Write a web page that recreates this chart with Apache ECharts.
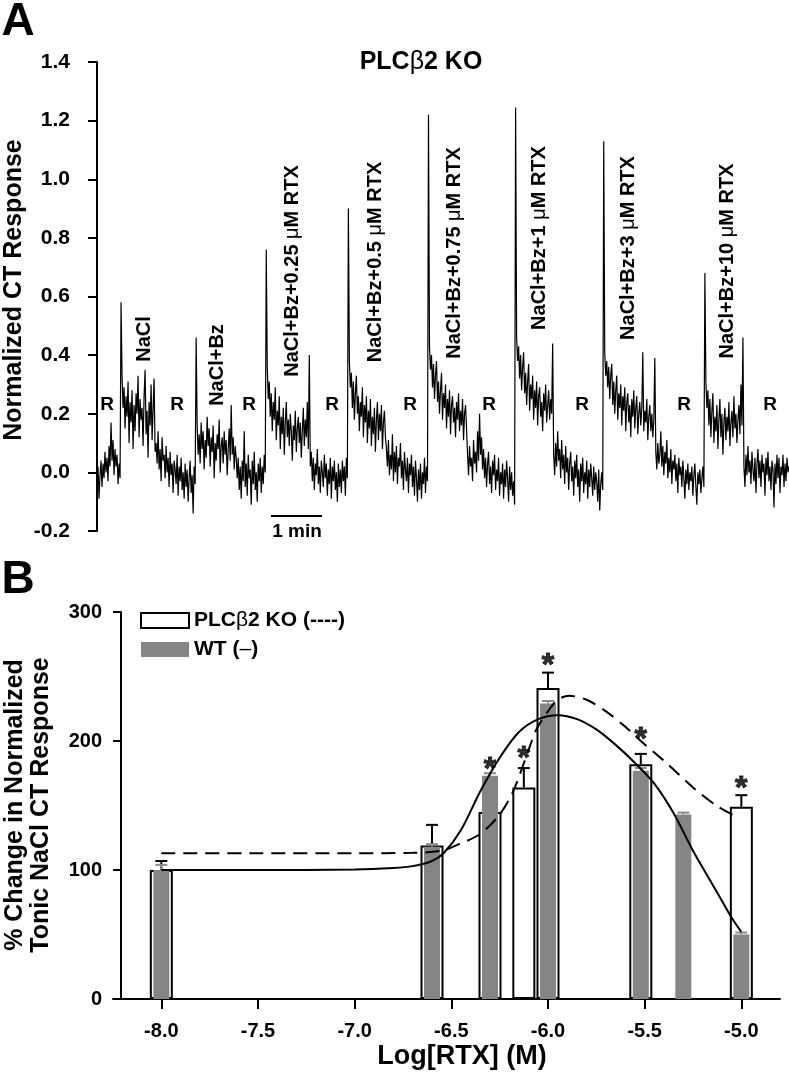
<!DOCTYPE html>
<html><head><meta charset="utf-8">
<script src="https://cdn.jsdelivr.net/npm/echarts@6/dist/echarts.min.js"></script>
<style>html,body{margin:0;padding:0;background:#fff}#c{width:789px;height:1084px}</style>
</head><body><div id="c"></div>
<script>
const FONT = "'Liberation Sans', Arial, Helvetica, sans-serif";

// ---------- Panel A: chorda tympani trace (normalized), one value per ~1 px ----------
const segR1 = [-0.07, 0.02, -0.09, -0.01, 0.04, -0.05, 0.03, -0.02, 0.07, 0.00,
  0.05, -0.03, 0.09, 0.02, 0.17, 0.04, 0.11, -0.01, 0.08, 0.02,
  0.06, -0.04, 0.03, -0.02];
const segNaCl = [0.58, 0.33, 0.22, 0.29, 0.15, 0.26, 0.19, 0.31, 0.10, 0.24,
  0.17, 0.28, 0.08, 0.23, 0.14, 0.27, 0.20, 0.33, 0.12, 0.25,
  0.18, 0.22, 0.09, 0.26, 0.35, 0.13, 0.21, 0.05, 0.24, 0.16,
  0.30, 0.11, 0.22, 0.32, 0.07];
const segR2 = [0.10, 0.03, 0.14, 0.01, 0.08, -0.03, 0.12, 0.04, 0.06, -0.02,
  0.09, 0.00, 0.05, -0.05, 0.07, -0.01, 0.03, -0.07, 0.04, 0.01,
  -0.04, 0.06, -0.08, 0.02, -0.03, 0.05, -0.06, 0.00, -0.09, 0.03,
  -0.05, 0.01, -0.10, -0.02, 0.04, -0.07, -0.01, -0.14, 0.02, -0.04];
const segBz = [0.46, 0.16, 0.06, 0.13, 0.03, 0.17, 0.08, 0.14, 0.01, 0.11,
  0.05, 0.19, 0.09, 0.15, 0.02, 0.12, 0.07, 0.16, -0.02, 0.10,
  0.04, 0.13, 0.08, 0.18, 0.00, 0.09, 0.12, 0.03, 0.14, 0.06,
  0.11, -0.01, 0.08, 0.15, 0.04, 0.23, 0.06, 0.12, 0.01, 0.09,
  0.05];
const segR3 = [-0.02, 0.05, -0.06, 0.02, -0.09, 0.04, -0.03, 0.14, -0.05, 0.03,
  -0.08, 0.06, -0.02, 0.01, -0.11, 0.04, -0.04, 0.07, -0.06, 0.00,
  -0.10, 0.03, -0.03, 0.05, -0.07, 0.02, -0.04, 0.06, 0.00];
const seg025 = [0.76, 0.36, 0.25, 0.31, 0.19, 0.27, 0.14, 0.24, 0.18, 0.29,
  0.11, 0.21, 0.16, 0.26, 0.08, 0.19, 0.13, 0.22, 0.06, 0.17,
  0.24, 0.12, 0.18, 0.09, 0.20, 0.14, 0.04, 0.16, 0.11, 0.21,
  0.07, 0.15, 0.19, 0.10, 0.17, 0.05, 0.14, 0.22, 0.09, 0.18,
  0.12, 0.24, 0.08, 0.40];
const segR4 = [0.02, 0.07, -0.03, 0.05, -0.06, 0.03, -0.01, 0.08, -0.04, 0.02,
  -0.07, 0.04, 0.00, -0.05, 0.06, -0.02, 0.03, -0.08, 0.01, -0.04,
  0.05, -0.09, 0.02, -0.03, 0.04, -0.06, 0.00, -0.10, 0.03, -0.05,
  0.01, -0.07, 0.04, -0.03, 0.02, -0.08, 0.05, -0.02];
const seg05 = [0.90, 0.38, 0.29, 0.34, 0.22, 0.31, 0.18, 0.27, 0.33, 0.20,
  0.26, 0.14, 0.24, 0.19, 0.29, 0.12, 0.23, 0.17, 0.26, 0.10,
  0.21, 0.15, 0.25, 0.09, 0.19, 0.13, 0.22, 0.07, 0.18, 0.24,
  0.11, 0.20, 0.14, 0.23, 0.08, 0.17, 0.21, 0.12];
const segR5 = [0.08, 0.02, 0.11, -0.01, 0.06, 0.01, 0.13, -0.03, 0.07, 0.00,
  0.09, -0.04, 0.05, 0.02, 0.10, -0.02, 0.04, -0.06, 0.07, 0.01,
  -0.03, 0.05, -0.07, 0.03, -0.01, 0.06, -0.05, 0.02, -0.08, 0.04,
  -0.02, -0.10, 0.01, -0.06, 0.03, -0.09, 0.00, -0.04, 0.05, -0.07,
  0.02, -0.03];
const seg075 = [1.22, 0.43, 0.35, 0.40, 0.29, 0.37, 0.25, 0.33, 0.38, 0.24,
  0.31, 0.20, 0.28, 0.34, 0.18, 0.27, 0.22, 0.30, 0.15, 0.25,
  0.19, 0.28, 0.13, 0.23, 0.26, 0.17, 0.22, 0.12, 0.24, 0.18,
  0.27, 0.14, 0.21, 0.16, 0.25, 0.11, 0.20, 0.23, 0.15];
const segR6 = [0.06, -0.01, 0.09, 0.02, 0.05, -0.03, 0.11, 0.03, 0.07, 0.00,
  0.14, 0.04, 0.20, 0.06, 0.12, 0.01, 0.08, -0.02, 0.05, -0.05,
  0.03, 0.07, -0.04, 0.02, -0.07, 0.04, -0.01, 0.06, -0.06, 0.01,
  -0.03, 0.05, -0.08, 0.00, -0.04, 0.03, -0.09, 0.01, -0.05, 0.04,
  -0.02, -0.10, 0.02, -0.06, 0.00, -0.08, -0.03, -0.11];
const seg1 = [1.245, 0.46, 0.38, 0.43, 0.32, 0.40, 0.28, 0.36, 0.41, 0.27,
  0.34, 0.23, 0.31, 0.37, 0.21, 0.30, 0.25, 0.33, 0.18, 0.28,
  0.22, 0.31, 0.16, 0.26, 0.29, 0.19, 0.24, 0.14, 0.27, 0.21,
  0.30, 0.17, 0.23, 0.28, 0.18, 0.25, 0.20, 0.44];
const segR7 = [0.06, -0.01, 0.10, 0.02, 0.14, 0.04, 0.08, -0.02, 0.11, 0.01,
  0.06, -0.04, 0.09, 0.00, 0.05, -0.06, 0.03, 0.07, -0.03, 0.02,
  -0.08, 0.04, -0.02, 0.06, -0.05, 0.01, -0.10, 0.03, -0.03, 0.05,
  -0.07, 0.00, -0.04, 0.04, -0.09, 0.01, -0.05, 0.03, -0.02, -0.08,
  0.02, -0.06, 0.00, -0.03, -0.10, 0.01, -0.13, -0.04, 0.00, -0.06];
const seg3 = [1.13, 0.41, 0.33, 0.38, 0.29, 0.36, 0.25, 0.33, 0.37, 0.23,
  0.31, 0.20, 0.28, 0.33, 0.18, 0.27, 0.22, 0.30, 0.16, 0.26,
  0.21, 0.29, 0.14, 0.24, 0.27, 0.17, 0.23, 0.12, 0.25, 0.19,
  0.28, 0.15, 0.22, 0.26, 0.13, 0.20, 0.24, 0.16, 0.22, 0.41,
  0.14, 0.21, 0.17, 0.25, 0.11, 0.19, 0.23, 0.14, 0.20, 0.12,
  0.18, 0.39];
const segR8 = [0.07, 0.01, 0.10, 0.03, 0.06, 0.14, 0.02, 0.09, -0.01, 0.07,
  0.03, 0.11, -0.02, 0.05, 0.00, 0.08, -0.04, 0.04, 0.01, 0.06,
  -0.03, 0.03, -0.07, 0.05, -0.01, 0.02, -0.05, 0.04, -0.02, -0.09,
  0.01, -0.04, 0.03, -0.06, 0.00, -0.03, 0.02, -0.08, -0.01, 0.03,
  -0.05, -0.11, 0.00, -0.04, 0.01, -0.07, -0.02, 0.02, -0.05];
const seg10 = [0.68, 0.31, 0.22, 0.28, 0.16, 0.25, 0.12, 0.21, 0.27, 0.10,
  0.19, 0.14, 0.23, 0.08, 0.18, 0.25, 0.12, 0.20, 0.06, 0.17,
  0.22, 0.11, 0.19, 0.14, 0.24, 0.09, 0.17, 0.21, 0.12, 0.26,
  0.15, 0.20, 0.10, 0.18, 0.23, 0.13, 0.30, 0.16, 0.46];
const segR9 = [0.02, -0.05, 0.06, -0.01, 0.09, 0.00, 0.04, -0.04, 0.07, 0.01,
  -0.03, 0.05, -0.07, 0.03, 0.08, -0.02, 0.04, -0.05, 0.06, 0.00,
  0.03, -0.08, 0.05, -0.01, 0.07, -0.03, 0.02, -0.06, 0.04, 0.01,
  -0.12, 0.03, -0.04, 0.06, -0.02, 0.05, -0.07, 0.02, -0.01, 0.06,
  -0.05, 0.03, -0.03, 0.05, 0.00, 0.02];
const traceSegments = [segR1, segNaCl, segR2, segBz, segR3, seg025, segR4, seg05, segR5, seg075, segR6, seg1, segR7, seg3, segR8, seg10, segR9];
const trace = [].concat(...traceSegments);

const stimulusLabels = ['NaCl', 'NaCl+Bz', 'NaCl+Bz+0.25 μM RTX', 'NaCl+Bz+0.5 μM RTX', 'NaCl+Bz+0.75 μM RTX',
  'NaCl+Bz+1 μM RTX', 'NaCl+Bz+3 μM RTX', 'NaCl+Bz+10 μM RTX'];

// ---------- Panel B: dose-response ----------
const logKO = [-8.0, -6.6, -6.3, -6.125, -6.0, -5.52, -5.0];
const meanKO = [100, 119, 145, 164, 241, 182, 149];
const semKO = [7, 16, 10, 15, 12, 8, 9];
const logWT = [-8.0, -6.6, -6.3, -6.0, -5.52, -5.3, -5.0];
const meanWT = [100, 118, 173, 229, 177, 143, 50];
const semWT = [4, 2, 2, 2, 2, 1.5, 1.5];
const fitKOx = [-8.0, -7.5, -7.0, -6.7, -6.55, -6.46, -6.35, -6.25, -6.18, -6.11, -6.06, -6.0, -5.95, -5.89, -5.8, -5.7, -5.6, -5.52, -5.45, -5.38, -5.25, -5.13, -5.02];
const fitKOy = [113, 113, 113, 113.3, 115, 120, 128, 143, 161, 189, 209, 223, 232, 235, 232, 223, 211, 200, 191, 182, 164, 150, 141];
const fitWTx = [-8.0, -7.5, -7.0, -6.8, -6.7, -6.6, -6.54, -6.45, -6.35, -6.25, -6.15, -6.05, -5.95, -5.85, -5.75, -5.65, -5.55, -5.45, -5.35, -5.25, -5.15, -5.1, -5.05, -5.0];
const fitWTy = [100, 100, 100.3, 101.5, 103, 107, 113, 131, 161, 187, 207, 217, 220, 217, 209, 197, 183, 167, 144, 115, 89, 76, 63, 52];
const starX = [-6.3, -6.125, -6.0, -5.52, -5.0];
const starY = [184, 193, 265, 208, 170];
const xTicksB = [-8.0, -7.5, -7.0, -6.5, -6.0, -5.5, -5.0];
const nameKO = 'PLCβ2 KO (----)';
const nameWT = 'WT (–)';

const zip = (a, b) => a.map((v, i) => [v, b[i]]);

function errRender(color) {
  return function (params, api) {
    const x = api.value(0), top = api.value(1), e = api.value(2);
    const p0 = api.coord([x, top]);
    const p1 = api.coord([x, top + e]);
    return {
      type: 'group', children: [
        { type: 'line', shape: { x1: p0[0], y1: p0[1], x2: p1[0], y2: p1[1] }, style: { stroke: color, lineWidth: 2 } },
        { type: 'line', shape: { x1: p1[0] - 6, y1: p1[1], x2: p1[0] + 6, y2: p1[1] }, style: { stroke: color, lineWidth: 2 } }
      ]
    };
  };
}

function txt(text, x, y, size, opts) {
  opts = opts || {};
  return {
    type: 'text', x: x, y: y, rotation: opts.rot || 0, silent: true,
    style: {
      text: text, x: 0, y: 0, fill: '#000',
      fontSize: size, fontWeight: opts.weight || 'bold', fontFamily: FONT,
      align: 'center', verticalAlign: 'middle', textAlign: 'center', textVerticalAlign: 'middle',
      rich: opts.rich
    }
  };
}
function muText(s) {
  const parts = s.split('μ');
  if (parts.length === 1) return s;
  return parts[0] + '{m|μ}' + parts[1];
}
const richMu = { m: { fontSize: 20, fontWeight: 'normal', fontFamily: FONT, fill: '#000' } };

const graphics = [];
graphics.push(txt('A', 18, 22, 46));
graphics.push(txt('B', 18, 580, 46));
graphics.push(txt('PLC{g|β}2 KO', 421, 62, 25, { rich: { g: { fontSize: 25, fontWeight: 'normal', fontFamily: FONT, fill: '#000' } } }));
graphics.push(txt('Normalized CT Response', 14, 290, 25, { rot: Math.PI / 2 }));
graphics.push(txt('% Change in Normalized', 15, 805, 25, { rot: Math.PI / 2 }));
graphics.push(txt('Tonic NaCl CT Response', 41, 805, 25, { rot: Math.PI / 2 }));
graphics.push(txt('Log[RTX] (M)', 462, 1057, 27));
// R labels
const rX = [107, 177, 249, 332, 410, 489, 582, 684, 770];
rX.forEach(x => graphics.push(txt('R', x, 405, 19)));
// stimulus labels (rotated)
const stimPos = [[144, 339], [217, 365], [292, 271], [375, 262], [454, 253], [539, 238], [628, 248], [727, 261]];
stimulusLabels.forEach((s, i) => graphics.push(txt(muText(s), stimPos[i][0], stimPos[i][1], 20, { rot: Math.PI / 2, rich: richMu })));
// 1 min scale bar
graphics.push({ type: 'line', silent: true, shape: { x1: 271, y1: 516, x2: 322, y2: 516 }, style: { stroke: '#000', lineWidth: 2 } });
graphics.push(txt('1 min', 297, 532, 19));

const axisFont = { fontFamily: FONT, fontWeight: 'bold', color: '#000' };

const option = {
  animation: false,
  backgroundColor: '#fff',
  graphic: graphics,
  grid: [
    { left: 90, right: 0, top: 62, height: 469 },
    { left: 113, right: 9, top: 612, height: 387 }
  ],
  legend: {
    orient: 'vertical', left: 135, top: 605, itemGap: 8, itemWidth: 48, itemHeight: 15,
    textStyle: {
      fontFamily: FONT, fontWeight: 'bold', fontSize: 21, color: '#000',
      rich: { g: { fontFamily: FONT, fontWeight: 'normal', fontSize: 21, color: '#000' }, b: { fontFamily: FONT, fontWeight: 'bold', fontSize: 21, color: '#000' } }
    },
    formatter: n => n.indexOf('β') >= 0 ? '{b|PLC}{g|β}{b|2 KO (----)}' : '{b|WT (}{g|–}{b|)}',
    data: [
      { name: nameKO, icon: 'rect', itemStyle: { color: '#fff', borderColor: '#000', borderWidth: 2 } },
      { name: nameWT, icon: 'rect', itemStyle: { color: '#858585', borderWidth: 0 } }
    ]
  },
  xAxis: [
    { gridIndex: 0, type: 'value', min: -7, max: trace.length - 1, show: false },
    {
      gridIndex: 1, type: 'value', min: -8.25, max: -4.8,
      axisLine: { lineStyle: { color: '#000', width: 2 } },
      axisTick: { customValues: xTicksB, length: 10, lineStyle: { color: '#000', width: 2 } },
      axisLabel: { customValues: xTicksB, formatter: v => v.toFixed(1), fontSize: 20, margin: 22, ...axisFont },
      splitLine: { show: false }
    },
    { gridIndex: 1, type: 'value', min: -8.25, max: -4.8, show: false }
  ],
  yAxis: [
    {
      gridIndex: 0, type: 'value', min: -0.2, max: 1.4, interval: 0.2,
      axisLine: { show: true, lineStyle: { color: '#000', width: 2 } },
      axisTick: { show: true, length: 9, lineStyle: { color: '#000', width: 2 } },
      axisLabel: { formatter: v => v.toFixed(1), fontSize: 21, margin: 20, ...axisFont },
      splitLine: { show: false }
    },
    {
      gridIndex: 1, type: 'value', min: 0, max: 300, interval: 100, offset: -8,
      axisLine: { show: true, lineStyle: { color: '#000', width: 2 } },
      axisTick: { show: true, length: 8, lineStyle: { color: '#000', width: 2 } },
      axisLabel: { fontSize: 20, margin: 19, ...axisFont },
      splitLine: { show: false }
    }
  ],
  series: [
    {
      type: 'line', xAxisIndex: 0, yAxisIndex: 0, data: trace.map((v, i) => [i, v]),
      showSymbol: false, symbol: 'none', lineStyle: { color: '#000', width: 1.2 }, silent: true
    },
    {
      name: nameKO, type: 'bar', xAxisIndex: 1, yAxisIndex: 1, data: zip(logKO, meanKO),
      barWidth: 23, itemStyle: { color: '#fff', borderColor: '#000', borderWidth: 2 }, z: 2
    },
    {
      type: 'custom', xAxisIndex: 1, yAxisIndex: 1, renderItem: errRender('#000'),
      data: logKO.map((x, i) => [x, meanKO[i], semKO[i]]), z: 1
    },
    {
      name: nameWT, type: 'bar', xAxisIndex: 2, yAxisIndex: 1, data: zip(logWT, meanWT),
      barWidth: 16, itemStyle: { color: '#858585' }, z: 3
    },
    {
      type: 'custom', xAxisIndex: 1, yAxisIndex: 1, renderItem: errRender('#8a8a8a'),
      data: logWT.map((x, i) => [x, meanWT[i], semWT[i]]), z: 3
    },
    {
      type: 'line', xAxisIndex: 1, yAxisIndex: 1, data: zip(fitWTx, fitWTy), smooth: 0.3,
      showSymbol: false, symbol: 'none', lineStyle: { color: '#000', width: 2 }, z: 5
    },
    {
      type: 'line', xAxisIndex: 1, yAxisIndex: 1, data: zip(fitKOx, fitKOy), smooth: 0.3,
      showSymbol: false, symbol: 'none', lineStyle: { color: '#000', width: 2, type: [14, 8] }, z: 5
    },
    {
      type: 'scatter', xAxisIndex: 1, yAxisIndex: 1, data: zip(starX, starY), symbolSize: 1,
      itemStyle: { color: 'transparent' }, z: 6,
      label: { show: true, position: 'inside', formatter: '*', color: '#000', fontSize: 32, fontWeight: 'bold', fontFamily: FONT, offset: [0, 9], textBorderColor: '#000', textBorderWidth: 1 }
    }
  ]
};
const chart = echarts.init(document.getElementById('c'), null, { renderer: 'canvas' });
chart.setOption(option);
</script>
</body></html>
